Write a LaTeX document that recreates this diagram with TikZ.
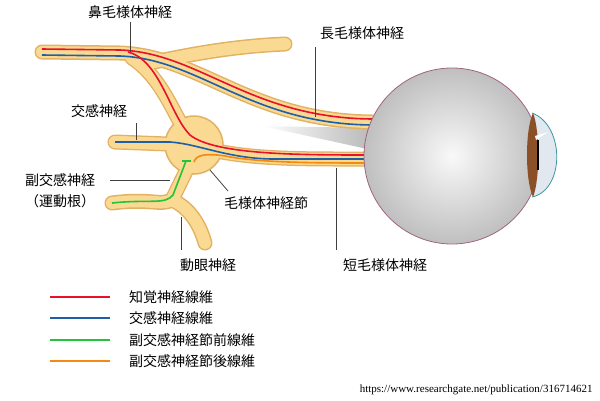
\documentclass[tikz,border=0pt]{standalone}
\usepackage{fontspec}
\newfontfamily\cjk{Noto Sans CJK JP}
\newfontfamily\urlf{Liberation Serif}
\begin{document}
\begin{tikzpicture}[x=1pt,y=-1pt,
 nerve/.style={line width=15pt,draw=nb,line cap=round},
 nervein/.style={line width=12pt,draw=nf,line cap=round},
 fib/.style={line width=1.6pt},
 lead/.style={draw=black!75,line width=0.8pt},
 lab/.style={font=\cjk\fontsize{14}{16}\selectfont,inner sep=1pt}]
\definecolor{nb}{HTML}{E2B264}
\definecolor{nf}{HTML}{FAD992}
\definecolor{cred}{HTML}{E8102A}
\definecolor{cblue}{HTML}{1F5FA8}
\definecolor{cgreen}{HTML}{22C43A}
\definecolor{corange}{HTML}{F58A10}
\definecolor{eyeb}{HTML}{A06482}
\definecolor{corb}{HTML}{3C96A0}
\definecolor{corf}{HTML}{E1E8F0}
\definecolor{iris}{HTML}{8C5028}
\useasboundingbox (0,0) rectangle (600,400);
% cone
\shade[left color=white,right color=gray!55] (262,126) -- (372,128) -- (372,150) -- cycle;
% coordinates
\coordinate (t0) at (42,52); \coordinate (t1) at (372,122);
\coordinate (g) at (194,145);
\coordinate (l1) at (372,159);
\coordinate (s0) at (115,142);
\coordinate (o0) at (112,203); \coordinate (oj) at (172,200);
\coordinate (ou) at (189,165); \coordinate (od) at (205,243);
\coordinate (ub) at (145,64); \coordinate (ue) at (285,44);
\foreach \s in {nerve,nervein}{
\ifx\s\nerveinname\fi
\draw[\s] (t0) -- (120,53) .. controls (200,56) and (250,121) .. (t1);
\draw[\s] (ub) .. controls (200,52) and (240,46) .. (ue);
\draw[\s] (132,58) .. controls (165,80) and (175,120) .. (g);
\draw[\s] (g) .. controls (240,160) and (300,159) .. (l1);
\draw[\s] (s0) -- (g);
\draw[\s] (o0) .. controls (150,198) and (160,206) .. (oj);
\draw[\s] (oj) -- (ou);
\draw[\s] (oj) .. controls (190,208) and (200,225) .. (od);
}
\node[circle,minimum size=58pt,fill=nf,draw=nb,line width=1.5pt,inner sep=0] (gang) at (g) {};
\foreach \s in {nervein}{
\draw[\s] (132,58) .. controls (165,80) and (175,120) .. (g);
\draw[\s] (g) .. controls (240,160) and (300,159) .. (l1);
\draw[\s] (s0) -- (g);
\draw[\s] (oj) -- (ou);
}
\fill[nf] (g) circle (27);
% fibres
\draw[fib,cred] (t0)++(0,-3) -- (120,50) .. controls (200,53) and (250,118) .. (372,119);
\draw[fib,cblue] (t0)++(0,3) -- (120,56) .. controls (200,59) and (250,124) .. (372,125);
\draw[fib,cred] (128,52) .. controls (160,60) and (170,115) .. (190,135) .. controls (215,155) and (300,155) .. (372,155);
\draw[fib,cblue] (s0) -- (170,142) .. controls (200,144) and (230,160) .. (280,159) .. controls (320,159) and (350,159) .. (372,159);
\draw[fib,corange] (194,162) .. controls (196,155) and (205,153) .. (225,156) .. controls (260,163) and (320,163) .. (372,163);
\draw[fib,cgreen] (o0) .. controls (150,199) and (165,205) .. (173,195) -- (186,161);
\draw[fib,cgreen] (182,161) -- (191,161);
% eye
\shade[inner color=gray!5,outer color=gray!50] (452,156) circle (88);
\draw[draw=eyeb,line width=0.8pt] (452,156) circle (88);
\draw[draw=corb,fill=corf,line width=0.8pt] (532,113) .. controls (565,125) and (565,190) .. (532,197);
\fill[iris] (533,113) .. controls (540,130) and (540,180) .. (533,197) .. controls (525,180) and (525,130) .. cycle;
\fill[black] (537,140) rectangle (539,170);
\fill[white] (535,136) -- (548,132) -- (536,140) -- cycle;
% labels
\node[lab] (n1) at (130,12) {鼻毛様体神経};
\draw[lead] (130,22) -- (130,52);
\node[lab] (n2) at (362,33) {長毛様体神経};
\draw[lead] (315,47) -- (315,117);
\node[lab] (n3) at (99,111) {交感神経};
\draw[lead] (136,123) -- (136,140);
\node[lab] (n4) at (60,180) {副交感神経};
\node[lab] (n5) at (60,201) {（運動根）};
\draw[lead] (110,180) -- (170,180);
\node[lab] (n6) at (266,203) {毛様体神経節};
\draw[lead] (210,170) -- (228,191);
\node[lab] (n7) at (208,265) {動眼神経};
\draw[lead] (181,217) -- (181,250);
\node[lab] (n8) at (385,265) {短毛様体神経};
\draw[lead] (336,168) -- (336,250);
% legend
\foreach \y/\c/\t in {297/cred/知覚神経線維,318/cblue/交感神経線維,340/cgreen/副交感神経節前線維,361/corange/副交感神経節後線維}{
 \draw[\c,line width=1.6pt] (50,\y) -- (110,\y);
 \node[lab,anchor=west] at (128,\y) {\t};
}
\node[font=\urlf\fontsize{11}{12}\selectfont,anchor=east] (url) at (596,390) {https://www.researchgate.net/publication/316714621};
\end{tikzpicture}
\end{document}
